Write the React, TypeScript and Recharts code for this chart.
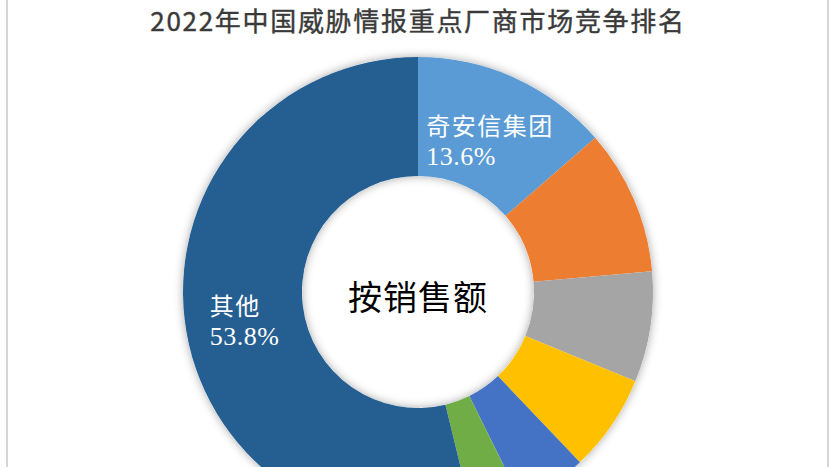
import React from 'react';
import { PieChart, Pie, Cell } from 'recharts';

const vendors = ['奇安信集团', '厂商B', '厂商C', '厂商D', '厂商E', '厂商F', '其他'];
const shares = [13.6, 10.0, 7.6, 6.7, 4.8, 3.5, 53.8];
const colors = ['#5B9BD5', '#ED7D31', '#A5A5A5', '#FFC000', '#4472C4', '#70AD47', '#255E91'];
const labelled = ['奇安信集团', '其他'];
const titleText = '2022年中国威胁情报重点厂商市场竞争排名';
const centerText = '按销售额';

const data = vendors.map((name, i) => ({ name, value: shares[i] }));
const ringBase = [{ name: 'base', value: 1 }];

const RAD = Math.PI / 180;

const renderLabel = (props: any) => {
  const { cx, cy, midAngle, innerRadius, outerRadius, percent, name } = props;
  if (!labelled.includes(name)) return null;
  const r = (innerRadius + outerRadius) / 2;
  const x = cx + r * Math.cos(-midAngle * RAD);
  const y = cy + r * Math.sin(-midAngle * RAD) + 8;
  const blockWidth = Math.max(name.length * 25.8, 68);
  const left = x - blockWidth / 2;
  return (
    <g>
      <text x={left} y={y - 16} fill="#fff" fontSize={24} dominantBaseline="central"
        fontFamily="'Noto Sans CJK SC', sans-serif" letterSpacing={1.5}>
        {name}
      </text>
      <text x={left} y={y + 16} fill="#fff" fontSize={26} dominantBaseline="central"
        fontFamily="'Liberation Serif', serif" letterSpacing={0.5}>
        {(percent * 100).toFixed(1) + '%'}
      </text>
    </g>
  );
};

export default function App() {
  return (
    <div style={{ position: 'absolute', left: 0, top: 0, width: 830, height: 467, background: '#fff', overflow: 'hidden' }}>
      <div style={{ position: 'absolute', left: 6, top: 0, width: 819, height: 467, borderLeft: '2px solid #d6d6d6', borderRight: '2px solid #d6d6d6' }} />
      <div style={{ position: 'absolute', left: 0, top: 3, width: 836, textAlign: 'center', fontFamily: "'Noto Sans CJK SC', sans-serif", fontSize: 26, letterSpacing: 1.7, color: '#3a3a3a', lineHeight: '34px', fontWeight: 400, WebkitTextStroke: '0.4px #3a3a3a' }}>
        {titleText}
      </div>
      <div style={{ position: 'absolute', left: 0, top: 0 }}>
        <PieChart width={830} height={467} margin={{ top: 0, right: 0, bottom: 0, left: 0 }}>
          <defs>
            <filter id="ringShadow" x="-20%" y="-20%" width="140%" height="140%">
              <feGaussianBlur in="SourceAlpha" stdDeviation="5" />
              <feOffset dx="0" dy="0" result="blur" />
              <feFlood floodColor="#000" floodOpacity="0.35" />
              <feComposite in2="blur" operator="in" />
              <feMerge>
                <feMergeNode />
                <feMergeNode in="SourceGraphic" />
              </feMerge>
            </filter>
          </defs>
          <Pie data={ringBase} dataKey="value" cx={418} cy={292} innerRadius={116} outerRadius={235}
            startAngle={90} endAngle={-270} stroke="none" isAnimationActive={false}>
            <Cell fill="#ffffff" filter="url(#ringShadow)" />
          </Pie>
          <Pie data={data} dataKey="value" nameKey="name" cx={418} cy={292} innerRadius={116} outerRadius={235}
            startAngle={90} endAngle={-270} stroke="none" isAnimationActive={false}
            label={renderLabel} labelLine={false}>
            {data.map((d, i) => (
              <Cell key={d.name} fill={colors[i]} />
            ))}
          </Pie>
        </PieChart>
      </div>
      <div style={{ position: 'absolute', left: 318, top: 274, width: 200, textAlign: 'center', fontFamily: "'Noto Sans CJK SC', sans-serif", fontSize: 34, color: '#000', lineHeight: '44px', letterSpacing: 1 }}>
        {centerText}
      </div>
    </div>
  );
}
